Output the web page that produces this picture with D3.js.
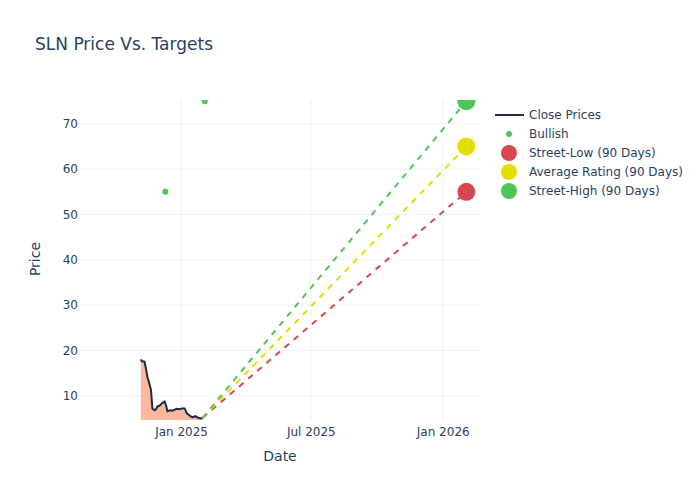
<!DOCTYPE html>
<html><head><meta charset="utf-8">
<script src="https://cdn.jsdelivr.net/npm/d3@7"></script>
<style>body{margin:0;background:#fff;} text{font-family:"DejaVu Sans",sans-serif;}</style>
</head><body><svg id="c" width="700" height="500"></svg>
<script>
const closeDates = ["2024-11-06","2024-11-07","2024-11-08","2024-11-11","2024-11-13","2024-11-15","2024-11-18","2024-11-20","2024-11-22","2024-11-25","2024-11-27","2024-11-29","2024-12-03","2024-12-05","2024-12-09","2024-12-11","2024-12-13","2024-12-17","2024-12-20","2024-12-26","2024-12-30","2025-01-02","2025-01-06","2025-01-09","2025-01-14","2025-01-17","2025-01-21","2025-01-24","2025-01-28","2025-01-31"];
const closeValues = [18.0,17.6,17.6,17.5,16.0,14.2,12.5,11.3,7.2,6.8,7.0,7.6,7.9,8.3,8.7,7.9,6.6,6.8,6.7,7.1,7.0,7.2,7.2,6.1,5.5,5.2,5.5,5.2,5.0,5.1];
const bullishDates = ["2024-12-10","2025-02-03"];
const bullishValues = [55,75];
const targetDate = "2026-02-03";
const targetNames = ["Street-Low (90 Days)","Average Rating (90 Days)","Street-High (90 Days)"];
const targetValues = [55,65,75];
const targetColors = ["#d5484f","#e0e000","#4cc657"];
const xTicks = ["2025-01-01","2025-07-01","2026-01-01"];
const xTickLabels = ["Jan 2025","Jul 2025","Jan 2026"];
const yTicks = [10,20,30,40,50,60,70];

const P = d3.timeParse("%Y-%m-%d");
const svg = d3.select("#c");
const L=80,R=480,T=100,B=420;
const x = d3.scaleTime().domain([P("2024-08-13"),P("2026-02-22")]).range([L,R]);
const y = d3.scaleLinear().domain([4.64,75.25]).range([B,T]);
const txt="#2a3f5f", grid="#ebf0f8";

svg.append("text").attr("x",35).attr("y",50).attr("fill",txt).style("font-size","17px").text("SLN Price Vs. Targets");

// grid
svg.append("g").selectAll("line").data(yTicks).join("line")
  .attr("x1",L).attr("x2",R).attr("y1",d=>y(d)).attr("y2",d=>y(d)).attr("stroke",grid).attr("stroke-width",1);
svg.append("g").selectAll("line").data(xTicks).join("line")
  .attr("y1",T).attr("y2",B).attr("x1",d=>x(P(d))).attr("x2",d=>x(P(d))).attr("stroke",grid).attr("stroke-width",1);

// axes labels
const yAx = d3.axisLeft(y).tickValues(yTicks).tickSize(0).tickPadding(0);
const gy = svg.append("g").attr("transform",`translate(${L-2},0)`).call(yAx);
gy.select(".domain").remove();
gy.selectAll("text").attr("fill",txt).style("font-size","12px").style("font-family","DejaVu Sans");
const xAx = d3.axisBottom(x).tickValues(xTicks.map(P)).tickFormat((d,i)=>xTickLabels[i]).tickSize(0).tickPadding(0);
const gx = svg.append("g").attr("transform",`translate(0,${B+5})`).call(xAx);
gx.select(".domain").remove();
gx.selectAll("text").attr("fill",txt).style("font-size","12px").style("font-family","DejaVu Sans").attr("dy","0.9em");

svg.append("text").attr("x",280).attr("y",461).attr("text-anchor","middle").attr("fill",txt).style("font-size","14px").text("Date");
svg.append("text").attr("transform","translate(40,259) rotate(-90)").attr("text-anchor","middle").attr("fill",txt).style("font-size","14px").text("Price");

svg.append("defs").append("clipPath").attr("id","clip").append("rect").attr("x",L).attr("y",T).attr("width",R-L).attr("height",B-T);
const g = svg.append("g").attr("clip-path","url(#clip)");

const cd = closeDates.map((d,i)=>({d:P(d),v:closeValues[i]}));
g.append("path").datum(cd).attr("d",d3.area().x(d=>x(d.d)).y0(y(0)).y1(d=>y(d.v)))
  .attr("fill","rgba(255,160,122,0.75)");
g.append("path").datum(cd).attr("d",d3.line().x(d=>x(d.d)).y(d=>y(d.v)))
  .attr("fill","none").attr("stroke","#1f2a48").attr("stroke-width",2);

const last = cd[cd.length-1];
targetValues.forEach((v,i)=>{
  g.append("line").attr("x1",x(last.d)).attr("y1",y(last.v)).attr("x2",x(P(targetDate))).attr("y2",y(v))
   .attr("stroke",targetColors[i]).attr("stroke-width",2).attr("stroke-dasharray","6,6");
});
targetValues.forEach((v,i)=>{
  g.append("circle").attr("cx",x(P(targetDate))).attr("cy",y(v)).attr("r",9).attr("fill",targetColors[i]);
});
g.selectAll(".bull").data(bullishDates).join("circle").attr("class","bull")
  .attr("cx",d=>x(P(d))).attr("cy",(d,i)=>y(bullishValues[i])).attr("r",3).attr("fill","#4cc657");

// legend
const lg = svg.append("g");
const rows = [{n:"Close Prices",t:"line"},{n:"Bullish",t:"small",c:"#4cc657"}].concat(targetNames.map((n,i)=>({n,t:"big",c:targetColors[i]})));
rows.forEach((r,i)=>{
  const yy = 115 + i*19;
  if(r.t==="line") lg.append("line").attr("x1",495).attr("x2",524).attr("y1",yy).attr("y2",yy).attr("stroke","#1f2a48").attr("stroke-width",2);
  else lg.append("circle").attr("cx",509).attr("cy",yy).attr("r",r.t==="small"?3:8).attr("fill",r.c);
  lg.append("text").attr("x",529).attr("y",yy+4).attr("fill",txt).style("font-size","12px").text(r.n);
});
</script></body></html>
